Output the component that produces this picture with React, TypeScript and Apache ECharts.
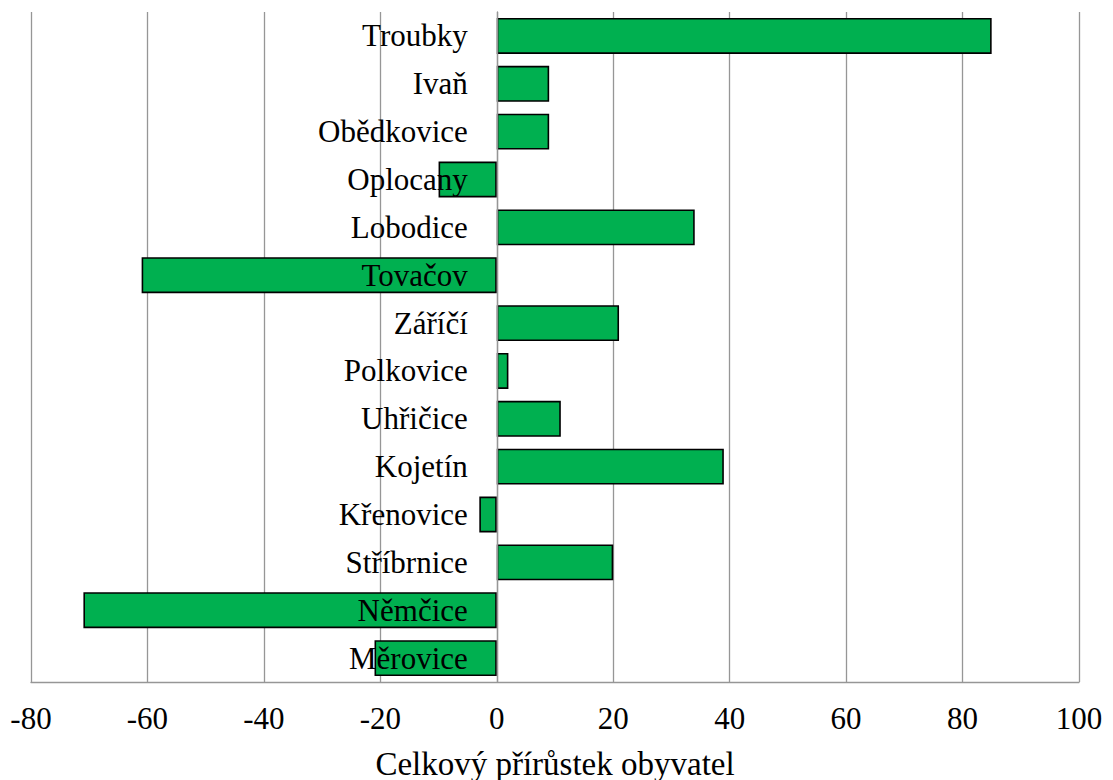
import React, { useEffect, useRef } from "react";
import * as echarts from "echarts";

// Top-to-bottom order as shown in the chart
const categories = [
  "Troubky",
  "Ivaň",
  "Obědkovice",
  "Oplocany",
  "Lobodice",
  "Tovačov",
  "Záříčí",
  "Polkovice",
  "Uhřičice",
  "Kojetín",
  "Křenovice",
  "Stříbrnice",
  "Němčice",
  "Měrovice",
];
const values = [85, 9, 9, -10, 34, -61, 21, 2, 11, 39, -3, 20, -71, -21];
const axisTitle = "Celkový přírůstek obyvatel";
const xMin = -80;
const xMax = 100;
const xStep = 20;

const FONT = "Liberation Serif, Times New Roman, serif";

export default function App() {
  const ref = useRef<HTMLDivElement>(null);
  useEffect(() => {
    if (!ref.current) return;
    const chart = echarts.init(ref.current, undefined, { renderer: "svg" });
    chart.setOption({
      animation: false,
      backgroundColor: "#ffffff",
      textStyle: { fontFamily: FONT, color: "#000" },
      grid: {
        left: 31,
        right: 34,
        top: 12,
        bottom: 98,
        containLabel: false,
        outerBoundsMode: "none",
      },
      xAxis: {
        type: "value",
        min: xMin,
        max: xMax,
        interval: xStep,
        name: axisTitle,
        nameLocation: "middle",
        nameGap: 65,
        nameTextStyle: { fontFamily: FONT, fontSize: 33, color: "#000" },
        axisLine: { show: true, lineStyle: { color: "#969696", width: 1.3 } },
        axisTick: { show: false },
        axisLabel: {
          fontFamily: FONT,
          fontSize: 31,
          color: "#000",
          margin: 21,
        },
        splitLine: { show: true, lineStyle: { color: "#969696", width: 1.3 } },
      },
      yAxis: {
        type: "category",
        data: categories,
        inverse: true,
        z: 5,
        offset: 0,
        axisLine: {
          show: true,
          onZero: false,
          lineStyle: { color: "#969696", width: 1.3 },
        },
        axisTick: { show: false },
        axisLabel: {
          fontFamily: FONT,
          fontSize: 31,
          color: "#000",
          margin: 29,
        },
        splitLine: { show: false },
      },
      series: [
        {
          type: "bar",
          data: values,
          barCategoryGap: "25%",
          itemStyle: {
            color: "#00B050",
            borderColor: "#000000",
            borderWidth: 1.6,
          },
        },
      ],
    });
    // place the category axis at the zero of the value axis
    const zeroPx = chart.convertToPixel({ xAxisIndex: 0 }, 0) as number;
    const minPx = chart.convertToPixel({ xAxisIndex: 0 }, xMin) as number;
    chart.setOption({ yAxis: { offset: -(zeroPx - minPx) } });
    return () => chart.dispose();
  }, []);
  return (
    <div
      ref={ref}
      style={{ position: "fixed", left: 0, top: 0, width: 1113, height: 780 }}
    />
  );
}
